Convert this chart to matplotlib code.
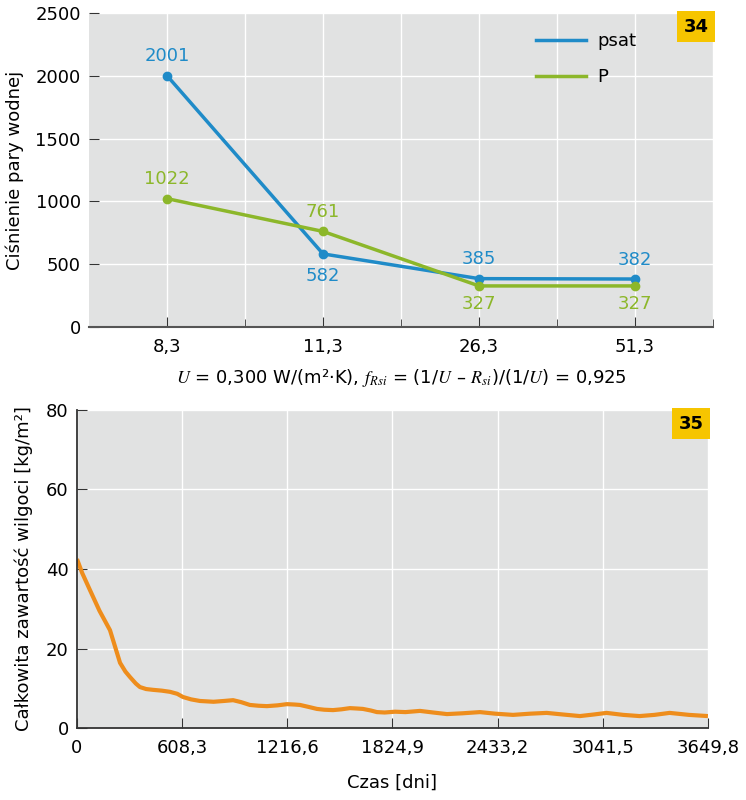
import numpy as np
import matplotlib
matplotlib.use("Agg")
import matplotlib.pyplot as plt
from matplotlib.ticker import FixedLocator
from matplotlib.lines import Line2D

plt.rcParams['font.family'] = ['DejaVu Sans']
plt.rcParams['mathtext.fontset'] = 'stix'

# chart 34 data
temps = ['8,3', '11,3', '26,3', '51,3']
psat = [2001, 582, 385, 382]
p_val = [1022, 761, 327, 327]

# chart 35 data
days = [0, 30, 75, 130, 191, 249, 280, 307, 340, 364, 400, 440, 490, 538, 580,
        613, 660, 711, 790, 850, 903, 950, 1000, 1050, 1099, 1160, 1215, 1260,
        1290, 1340, 1388, 1430, 1481, 1530, 1579, 1620, 1654, 1700, 1735, 1780,
        1840, 1900, 1984, 2060, 2140, 2230, 2331, 2420, 2522, 2620, 2717, 2810,
        2909, 2990, 3063, 3160, 3254, 3340, 3428, 3540, 3649.8]
moisture = [42.5, 39.0, 34.7, 29.5, 24.6, 16.4, 14.2, 12.8, 11.2, 10.3, 9.8,
            9.6, 9.4, 9.1, 8.6, 7.8, 7.2, 6.8, 6.6, 6.8, 7.0, 6.5, 5.8, 5.6,
            5.5, 5.7, 6.0, 5.9, 5.8, 5.3, 4.8, 4.6, 4.5, 4.7, 5.0, 4.9, 4.8,
            4.4, 4.0, 3.9, 4.1, 4.0, 4.3, 3.9, 3.5, 3.7, 4.0, 3.6, 3.3, 3.6,
            3.8, 3.4, 3.0, 3.4, 3.8, 3.3, 3.0, 3.3, 3.8, 3.3, 3.0]
xticks35 = [0, 608.3, 1216.6, 1824.9, 2433.2, 3041.5, 3649.8]
xlabels35 = ['0', '608,3', '1216,6', '1824,9', '2433,2', '3041,5', '3649,8']

blue = '#1f8bc8'
green = '#8cb72a'
orange = '#ee8d1c'
bg = '#e1e2e2'
badge = '#f6c500'
dark = '#333333'
fs = 13

fig = plt.figure(figsize=(7.46, 8.0), dpi=100)

# ---- chart 34
ax = fig.add_axes([0.1193, 0.59125, 0.8365, 0.3925])
ax.set_facecolor(bg)
x = np.arange(len(temps))
ax.plot(x, psat, '-o', color=blue, lw=2.5, ms=6, zorder=3)
ax.plot(x, p_val, '-o', color=green, lw=2.5, ms=6, zorder=3)
for i in range(len(temps)):
    dy = -16 if i == 1 else 14
    ax.annotate(str(psat[i]), (x[i], psat[i]), xytext=(0, dy), textcoords='offset points',
                ha='center', va='center', color=blue, fontsize=fs)
    dy = -13 if i >= 2 else 14
    ax.annotate(str(p_val[i]), (x[i], p_val[i]), xytext=(0, dy), textcoords='offset points',
                ha='center', va='center', color=green, fontsize=fs)
ax.set_xlim(-0.5, 3.5)
ax.set_ylim(0, 2500)
ax.set_xticks(x)
ax.set_xticklabels(temps, fontsize=fs)
ax.xaxis.set_minor_locator(FixedLocator([0.5, 1.5, 2.5, 3.5]))
ax.set_yticks(range(0, 2501, 500))
ax.tick_params(axis='y', labelsize=fs, direction='in', length=7, color=dark, pad=6)
ax.tick_params(axis='x', which='major', direction='in', length=7, color=dark, pad=8)
ax.tick_params(axis='x', which='minor', direction='in', length=6, color=dark)
ax.grid(True, which='both', color='white', lw=1)
ax.set_axisbelow(True)
for s in ['top', 'right', 'left']:
    ax.spines[s].set_visible(False)
ax.spines['bottom'].set_color('#555555')
ax.spines['bottom'].set_linewidth(1.5)
ax.set_ylabel('Ciśnienie pary wodnej', fontsize=fs)
ax.yaxis.set_label_coords(-0.104, 0.5)
ax.set_xlabel(r'$U$ = 0,300 W/(m²·K), $f_{Rsi}$ = (1/$U$ – $R_{si}$)/(1/$U$) = 0,925',
              fontsize=fs, labelpad=8)
handles = [Line2D([], [], color=blue, lw=2.5), Line2D([], [], color=green, lw=2.5)]
ax.legend(handles, ['psat', 'P'], loc='upper left', bbox_to_anchor=(0.69, 0.99),
          frameon=False, fontsize=fs, handlelength=2.8, labelspacing=1.0,
          handletextpad=0.6)
ax.text(0.993, 0.985, '34', transform=ax.transAxes, ha='right', va='top', fontsize=fs,
        fontweight='bold', bbox=dict(boxstyle='square,pad=0.35', fc=badge, ec='none'))

# ---- chart 35
bx = fig.add_axes([0.1032, 0.09, 0.8458, 0.3975])
bx.set_facecolor(bg)
bx.plot(days, moisture, color=orange, lw=3.0, solid_capstyle='butt')
bx.set_xlim(0, 3649.8)
bx.set_ylim(0, 80)
bx.set_xticks(xticks35)
bx.set_xticklabels(xlabels35, fontsize=fs)
bx.set_yticks(range(0, 81, 20))
bx.tick_params(axis='y', labelsize=fs, direction='in', length=7, color=dark, pad=6)
bx.tick_params(axis='x', labelsize=fs, direction='in', length=7, color=dark, pad=8)
bx.grid(True, color='white', lw=1)
bx.set_axisbelow(True)
for s in ['top', 'right']:
    bx.spines[s].set_visible(False)
for s in ['left', 'bottom']:
    bx.spines[s].set_color(dark)
    bx.spines[s].set_linewidth(1.3)
bx.set_ylabel('Całkowita zawartość wilgoci [kg/m²]', fontsize=fs)
bx.yaxis.set_label_coords(-0.07, 0.5)
bx.set_xlabel('Czas [dni]', fontsize=fs, labelpad=12)
bx.text(0.993, 0.985, '35', transform=bx.transAxes, ha='right', va='top', fontsize=fs,
        fontweight='bold', bbox=dict(boxstyle='square,pad=0.35', fc=badge, ec='none'))

fig.savefig('out.png', dpi=100)
